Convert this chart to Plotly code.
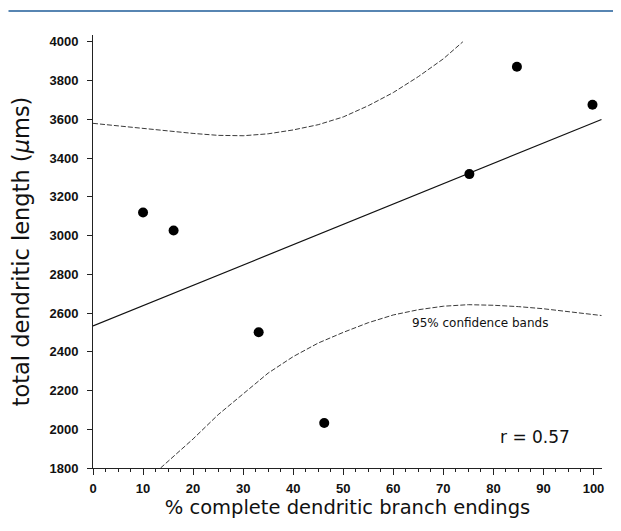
import plotly.graph_objects as go

# Data points
pct_complete = [10.0, 16.1, 33.1, 46.2, 75.2, 84.7, 99.8]
dendritic_length = [3119, 3026, 2501, 2032, 3317, 3871, 3675]

# Regression line end points
fit_x = [0, 101.6]
fit_y = [2533, 3599]

# Upper 95% confidence band
upper_x = [0, 5, 10, 15, 20, 25, 30, 35, 40, 45, 50, 55, 60, 65, 70, 73.9]
upper_y = [3579, 3565, 3553, 3540, 3527, 3517, 3515, 3525, 3545, 3572, 3612, 3670, 3738, 3820, 3912, 4000]

# Lower 95% confidence band
lower_x = [13.5, 15, 20, 25, 30, 35, 40, 45, 50, 55, 60, 65, 70, 75, 80, 85, 90, 95, 100, 101.6]
lower_y = [1800, 1835, 1950, 2075, 2185, 2290, 2375, 2445, 2500, 2550, 2590, 2617, 2635, 2643, 2640, 2633, 2622, 2608, 2592, 2587]

x_ticks = [0, 10, 20, 30, 40, 50, 60, 70, 80, 90, 100]
y_ticks = [1800, 2000, 2200, 2400, 2600, 2800, 3000, 3200, 3400, 3600, 3800, 4000]

fig = go.Figure()
fig.add_trace(go.Scatter(x=upper_x, y=upper_y, mode="lines",
                         line=dict(color="#3a3a3a", width=1, dash="5px,2px"), hoverinfo="skip"))
fig.add_trace(go.Scatter(x=lower_x, y=lower_y, mode="lines",
                         line=dict(color="#3a3a3a", width=1, dash="5px,2px"), hoverinfo="skip"))
fig.add_trace(go.Scatter(x=fit_x, y=fit_y, mode="lines",
                         line=dict(color="#111111", width=1.2)))
fig.add_trace(go.Scatter(x=pct_complete, y=dendritic_length, mode="markers",
                         marker=dict(color="black", size=10)))

tick_font = dict(family="Liberation Sans, Arial, sans-serif", size=13, color="#111", weight="bold")
x_title_font = dict(family="DejaVu Sans, Verdana, sans-serif", size=19.5, color="#111")
y_title_font = dict(family="DejaVu Sans, Verdana, sans-serif", size=22.5, color="#111")

fig.update_layout(
    width=621, height=531,
    margin=dict(l=84.5, r=27, t=27, b=71.3, autoexpand=False),
    paper_bgcolor="white", plot_bgcolor="white",
    showlegend=False,
    xaxis=dict(range=[0, 101.7], tickvals=x_ticks, ticks="outside", ticklen=6, tickcolor="#222",
               showline=True, linecolor="#222", linewidth=1, showgrid=False, zeroline=False,
               tickfont=tick_font, automargin=False, ticklabelstandoff=2,
               minor=dict(dtick=2.5, tick0=0, ticks="outside", ticklen=3, tickcolor="#222", showgrid=False),
               title=dict(text="% complete dendritic branch endings", font=x_title_font, standoff=0)),
    yaxis=dict(range=[1800, 4035], tickvals=y_ticks, ticks="outside", ticklen=5, tickcolor="#222",
               showline=True, linecolor="#222", linewidth=1, showgrid=False, zeroline=False,
               tickfont=tick_font, automargin=False, ticklabelstandoff=6,
               title=dict(text="total dendritic length (<i>μ</i>ms)", font=y_title_font, standoff=14)),
    shapes=[dict(type="line", xref="paper", yref="paper",
                 x0=-0.166, x1=1.06, y0=1.0555, y1=1.0555,
                 line=dict(color="#1f5c99", width=1.5))],
    annotations=[
        dict(x=63.4, y=2547, xref="x", yref="y", text="95% confidence bands", showarrow=False,
             xanchor="left", yanchor="middle",
             font=dict(family="DejaVu Sans, Verdana, sans-serif", size=12, color="#111")),
        dict(x=81, y=1958, xref="x", yref="y", text="r = 0.57", showarrow=False,
             xanchor="left", yanchor="middle",
             font=dict(family="DejaVu Sans, Verdana, sans-serif", size=17, color="#111")),
    ],
)

fig.write_html("out.html")
